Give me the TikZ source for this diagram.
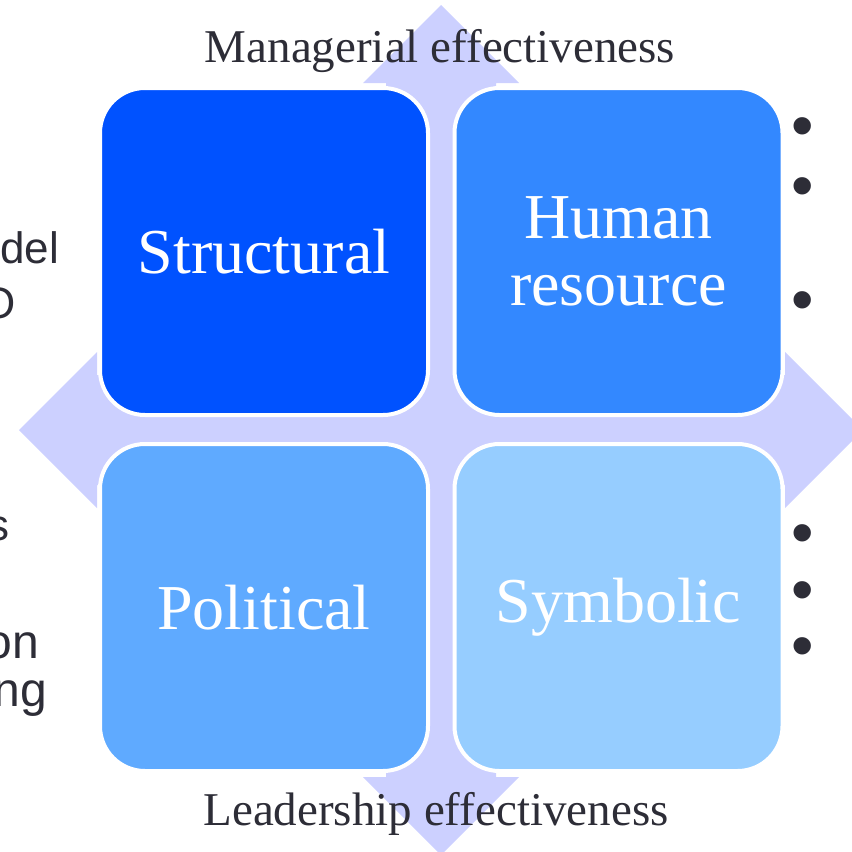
\documentclass[tikz,border=0pt]{standalone}
\usepackage{fontspec}
\setmainfont{Liberation Serif}
\newfontfamily\sansf{Liberation Sans}
\definecolor{lav}{RGB}{204,208,255}
\definecolor{cStruct}{RGB}{0,82,255}
\definecolor{cHuman}{RGB}{51,136,255}
\definecolor{cPol}{RGB}{95,170,255}
\definecolor{cSym}{RGB}{150,205,255}
\definecolor{ink}{RGB}{45,45,55}
\tikzset{
  quad/.style={draw=white, line width=4pt, rounded corners=45pt,
    minimum width=328pt, minimum height=327pt, inner sep=0pt,
    text=white, align=center, font=\fontsize{64}{67}\selectfont},
  axislabel/.style={text=ink, font=\fontsize{47}{50}\selectfont, inner sep=0pt},
  sidetext/.style={text=ink, font=\sansf\fontsize{44}{50}\selectfont, inner sep=0pt, anchor=base east},
  bullet/.style={text=ink, font=\sansf\fontsize{64}{68}\selectfont, inner sep=0pt}
}
\begin{document}
\begin{tikzpicture}[x=1pt,y=-1pt]
\useasboundingbox (0,0) rectangle (852,852);
% background four-way arrow
\fill[lav] (441,5) -- (519,83) -- (496,83) -- (496,375) -- (785,375) -- (785,352)
  -- (863,430) -- (785,508) -- (785,485) -- (496,485) -- (496,777) -- (519,777)
  -- (441,855) -- (363,777) -- (386,777) -- (386,485) -- (97,485) -- (97,508)
  -- (19,430) -- (97,352) -- (97,375) -- (386,375) -- (386,83) -- (363,83) -- cycle;
% quadrants
\node[quad, fill=cStruct] (structural) at (264,251.5) {Structural};
\node[quad, fill=cHuman] (human) at (618.5,251.5) {Human\\resource};
\node[quad, fill=cPol] (political) at (264,607.5) {Political};
\node[quad, fill=cSym] (symbolic) at (618.5,607.5) {Symbolic};
% axis labels
\node[axislabel, anchor=base] (managerial) at (440,62) {Managerial effectiveness};
\node[axislabel, anchor=base] (leadership) at (436,825) {Leadership effectiveness};
% cut-off side text
\node[sidetext] (t1) at (59,263) {del};
\node[sidetext] (t2) at (16,318) {O};
\node[sidetext] (t3) at (10,540) {s};
\node[sidetext, font=\sansf\fontsize{48}{52}\selectfont] (t4) at (39,658) {on};
\node[sidetext, font=\sansf\fontsize{48}{52}\selectfont] (t5) at (47,706) {ng};
% bullets
\node[bullet] (b1) at (803,133) {•};
\node[bullet] (b2) at (803,193) {•};
\node[bullet] (b3) at (803,307) {•};
\node[bullet] (b4) at (803,540) {•};
\node[bullet] (b5) at (803,597) {•};
\node[bullet] (b6) at (803,653) {•};
\end{tikzpicture}
\end{document}
